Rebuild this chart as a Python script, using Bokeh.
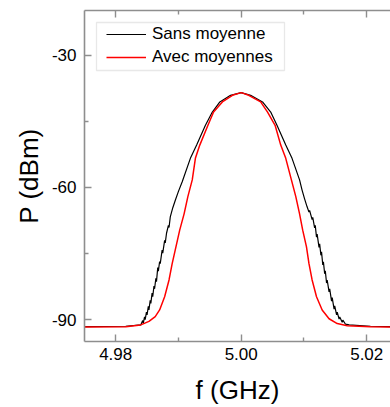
from bokeh.plotting import figure
from bokeh.models import (Range1d, LinearAxis, FixedTicker, Legend, LegendItem,
                          BoxAnnotation, NumeralTickFormatter, CustomJSTickFormatter)
from bokeh.embed import file_html
from bokeh.resources import INLINE

# ---- data ----
f_sans = [4.9740, 4.9816, 4.9840, 4.9843, 4.9844, 4.9846, 4.9847, 4.9849, 4.9850,
          4.9852, 4.9853, 4.9855, 4.9856, 4.9858, 4.9859, 4.9861, 4.9862, 4.9864,
          4.9865, 4.9867, 4.9868, 4.9870, 4.9871, 4.9874, 4.9875, 4.9878, 4.9879,
          4.9881, 4.9884, 4.9885, 4.9887, 4.9891, 4.9895, 4.9900, 4.9906, 4.9919,
          4.9929, 4.9943, 4.9954, 4.9966, 4.9983, 5.0000, 5.0015, 5.0034, 5.0047,
          5.0057, 5.0071, 5.0081, 5.0093, 5.0097, 5.0101, 5.0105, 5.0108, 5.0109,
          5.0113, 5.0114, 5.0117, 5.0118, 5.0120, 5.0121, 5.0124, 5.0125, 5.0127,
          5.0128, 5.0130, 5.0131, 5.0133, 5.0134, 5.0136, 5.0137, 5.0140, 5.0141,
          5.0144, 5.0145, 5.0148, 5.0149, 5.0152, 5.0153, 5.0156, 5.0157, 5.0161,
          5.0162, 5.0166, 5.0172, 5.0206, 5.0250]
p_sans = [-91.6, -91.5, -91.2, -90.2, -90.8, -89.4, -90.0, -88.3, -88.9,
          -87.0, -87.8, -85.6, -86.3, -84.0, -84.8, -82.4, -83.0, -80.6,
          -81.4, -78.2, -79.0, -76.8, -77.3, -74.2, -74.9, -72.0, -72.6,
          -70.4, -68.6, -69.1, -66.7, -64.6, -62.9, -60.9, -58.7, -53.4,
          -50.4, -45.9, -42.9, -40.6, -39.1, -38.5, -39.1, -40.6, -42.9,
          -45.9, -50.4, -53.4, -58.3, -60.6, -62.6, -64.4, -65.6, -65.2,
          -67.3, -66.8, -69.2, -68.6, -71.3, -70.6, -73.6, -72.8, -75.4,
          -74.6, -77.6, -76.9, -79.6, -78.9, -81.7, -81.0, -83.7, -83.0,
          -85.8, -85.0, -87.6, -86.9, -88.9, -88.3, -89.9, -89.4, -90.6,
          -90.1, -91.0, -91.2, -91.5, -91.6]

f_avec = [4.9740, 4.9816, 4.9840, 4.9853, 4.9863, 4.9870, 4.9878, 4.9885, 4.9890,
          4.9896, 4.9902, 4.9909, 4.9915, 4.9922, 4.9927, 4.9934, 4.9947, 4.9956,
          4.9970, 4.9986, 5.0000, 5.0012, 5.0031, 5.0042, 5.0054, 5.0063, 5.0071,
          5.0080, 5.0087, 5.0093, 5.0098, 5.0104, 5.0108, 5.0113, 5.0120, 5.0129,
          5.0140, 5.0153, 5.0169, 5.0206, 5.0250]
p_avec = [-91.7, -91.6, -91.2, -90.4, -89.3, -87.8, -84.8, -81.0, -77.3,
          -73.5, -69.7, -66.0, -62.1, -58.3, -53.4, -50.4, -45.9, -42.9,
          -40.6, -39.1, -38.5, -39.1, -40.6, -42.9, -45.9, -50.4, -53.4,
          -58.3, -62.1, -66.0, -69.7, -73.5, -77.3, -81.0, -84.8, -87.8,
          -89.8, -90.9, -91.4, -91.6, -91.7]

x_major = [4.98, 5.00, 5.02]
x_minor = [4.99, 5.01]
y_major = [-90, -60, -30]
y_minor = [-75, -45]
legend_labels = ["Sans moyenne", "Avec moyennes"]

FONT = "Liberation Sans"
AX = "#8e8e8e"

p = figure(width=390, height=407, output_backend="svg", toolbar_location=None,
           x_range=Range1d(4.97503, 5.02379), y_range=Range1d(-94.96, -19.86),
           min_border_left=84, min_border_right=0, min_border_top=10,
           min_border_bottom=65)
p.outline_line_color = None
p.grid.visible = False
p.background_fill_color = "white"
p.border_fill_color = "white"

r1 = p.line(f_sans, p_sans, line_color="black", line_width=1.2)
r2 = p.line(f_avec, p_avec, line_color="#ff0000", line_width=1.5)

def style(ax):
    ax.axis_line_color = AX
    ax.axis_line_width = 1.6
    ax.major_tick_line_color = AX
    ax.minor_tick_line_color = AX
    ax.major_tick_line_width = 1.4
    ax.minor_tick_line_width = 1.4
    ax.major_tick_in = 7
    ax.major_tick_out = 0
    ax.minor_tick_in = 4
    ax.minor_tick_out = 0
    ax.major_label_text_font = FONT
    ax.major_label_text_font_size = "17px"
    ax.major_label_text_color = "black"
    ax.axis_label_text_font = FONT
    ax.axis_label_text_font_style = "normal"
    ax.axis_label_text_font_size = "26px"
    ax.axis_label_text_color = "black"

xax = p.xaxis[0]
xax.ticker = FixedTicker(ticks=x_major, minor_ticks=x_minor)
xax.formatter = NumeralTickFormatter(format="0.00")
style(xax)
xax.axis_label = "f (GHz)"
xax.major_label_standoff = 6
xax.axis_label_standoff = 12

yax = p.yaxis[0]
yax.ticker = FixedTicker(ticks=y_major, minor_ticks=y_minor)
yax.major_label_overrides = {v: str(v) for v in y_major}
style(yax)
yax.axis_label = "P (dBm)"
yax.major_label_standoff = 8
yax.axis_label_standoff = 5

top = LinearAxis(ticker=FixedTicker(ticks=x_major, minor_ticks=x_minor),
                 formatter=CustomJSTickFormatter(code="return ''"))
style(top)
top.major_label_standoff = 0
p.add_layout(top, "above")

box = BoxAnnotation(left=96, right=284, top=22, bottom=70,
                    left_units="canvas", right_units="canvas",
                    top_units="canvas", bottom_units="canvas",
                    fill_color="white", fill_alpha=1.0,
                    line_color="#b4b4b4", line_width=1.3, level="overlay")
p.add_layout(box)

legend = Legend(items=[LegendItem(label=legend_labels[0], renderers=[r1]),
                       LegendItem(label=legend_labels[1], renderers=[r2])],
                location=(22, 274), padding=0, spacing=3,
                glyph_width=40, glyph_height=20, label_height=20,
                label_standoff=6, border_line_color=None,
                background_fill_alpha=0.0,
                label_text_font=FONT, label_text_font_size="17px",
                label_text_color="black")
p.add_layout(legend)

open("out.html", "w").write(file_html(p, INLINE))
